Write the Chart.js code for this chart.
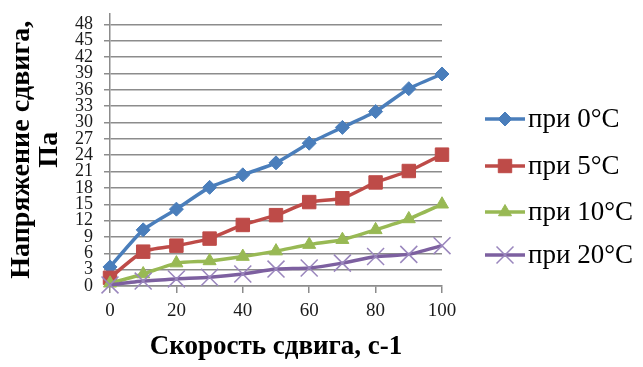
<!DOCTYPE html>
<html>
<head>
<meta charset="utf-8">
<script src="https://cdn.jsdelivr.net/npm/chart.js@4/dist/chart.umd.min.js"></script>
<style>
html,body{margin:0;padding:0;background:#fff;}
#wrap{position:relative;width:643px;height:367px;}
</style>
</head>
<body>
<div id="wrap"><canvas id="c" width="643" height="367"></canvas></div>
<script>
const shearRates = [0, 10, 20, 30, 40, 50, 60, 70, 80, 90, 100];
const at0C  = [3.5, 10.3, 14.1, 18.1, 20.4, 22.6, 26.2, 29.1, 32.0, 36.2, 38.9];
const at5C  = [1.5, 6.3, 7.4, 8.7, 11.2, 13.0, 15.4, 16.1, 19.0, 21.1, 24.1];
const at10C = [0.5, 2.2, 4.2, 4.6, 5.4, 6.4, 7.6, 8.5, 10.3, 12.3, 15.0];
const at20C = [0.2, 0.9, 1.3, 1.6, 2.2, 3.1, 3.3, 4.2, 5.4, 5.8, 7.4];
const seriesNames = ['при 0°C', 'при 5°C', 'при 10°C', 'при 20°C'];
const yTitle = ['Напряжение сдвига,', 'Па'];
const xTitle = 'Скорость сдвига, с-1';

const toXY = arr => arr.map((v, i) => ({x: shearRates[i], y: v}));

const serif = "'Liberation Serif', 'Times New Roman', serif";

const datasets = [
  {label: seriesNames[0], data: toXY(at0C), borderColor: '#4a7ebb', backgroundColor: '#4a7ebb',
   pointStyle: 'rectRot', pointRadius: 7, pointBorderWidth: 1, order: 4},
  {label: seriesNames[1], data: toXY(at5C), borderColor: '#be4b48', backgroundColor: '#be4b48',
   pointStyle: 'rect', pointRadius: 9.5, pointBorderWidth: 1, order: 3},
  {label: seriesNames[2], data: toXY(at10C), borderColor: '#98b954', backgroundColor: '#98b954',
   pointStyle: 'triangle', pointRadius: 7.5, pointBorderWidth: 1, order: 2},
  {label: seriesNames[3], data: toXY(at20C), borderColor: '#7d60a0', backgroundColor: '#7d60a0',
   pointStyle: 'crossRot', pointRadius: 12, pointBorderWidth: 1.5, pointBorderColor: '#9a86bd', order: 1}
].map(d => Object.assign({borderWidth: 3.5, tension: 0.2, clip: false, fill: false}, d));

const legendPlugin = {
  id: 'sideLegend',
  afterDraw(chart) {
    const ctx = chart.ctx;
    const ys = [119, 166, 212, 255];
    chart.data.datasets.forEach((ds, i) => {
      const y = ys[i];
      ctx.save();
      ctx.strokeStyle = ds.borderColor;
      ctx.lineWidth = 3.5;
      ctx.beginPath();
      ctx.moveTo(485, y);
      ctx.lineTo(525, y);
      ctx.stroke();
      ctx.fillStyle = ds.backgroundColor;
      ctx.strokeStyle = ds.pointBorderColor || ds.borderColor;
      ctx.lineWidth = ds.pointBorderWidth;
      Chart.helpers.drawPoint(ctx, {pointStyle: ds.pointStyle, radius: ds.pointRadius, borderWidth: ds.pointBorderWidth, rotation: 0}, 505, y);
      ctx.font = "27px " + serif;
      ctx.fillStyle = '#000';
      ctx.textBaseline = 'middle';
      ctx.textAlign = 'left';
      ctx.fillText(ds.label, 528, y + 1);
      ctx.restore();
    });
  }
};

new Chart(document.getElementById('c'), {
  type: 'line',
  data: {datasets},
  plugins: [legendPlugin],
  options: {
    responsive: false,
    animation: false,
    devicePixelRatio: 1,
    layout: {padding: {top: 6, right: 201, left: 0, bottom: 0}},
    plugins: {legend: {display: false}, tooltip: {enabled: false}},
    scales: {
      x: {
        type: 'linear',
        min: 0, max: 100,
        ticks: {stepSize: 20, color: '#1a1a1a', font: {family: serif, size: 19}, padding: 7, maxRotation: 0},
        grid: {drawOnChartArea: false, drawTicks: true, tickLength: 7, color: '#8c8c8c', lineWidth: 1.5},
        border: {color: '#8c8c8c', width: 1.5},
        title: {display: true, text: xTitle, color: '#000',
                font: {family: serif, size: 27, weight: 'bold'}, padding: {top: 0, bottom: 4}},
        afterFit(scale) { scale.height = 81; }
      },
      y: {
        type: 'linear',
        min: 0, max: 50,
        ticks: {stepSize: 3, includeBounds: false, autoSkip: false, color: '#1a1a1a', font: {family: serif, size: 18}, padding: 11},
        grid: {drawOnChartArea: true, drawTicks: true, tickLength: 6, color: '#8c8c8c', lineWidth: 1.5},
        border: {color: '#8c8c8c', width: 1.5},
        title: {display: true, text: yTitle, color: '#000',
                font: {family: serif, size: 28, weight: 'bold', lineHeight: 1.0}, padding: {top: 8, bottom: 0}},
        afterFit(scale) { scale.width = 110; scale.paddingTop = 0; scale.paddingBottom = 0; }
      }
    }
  }
});
</script>
</body>
</html>
